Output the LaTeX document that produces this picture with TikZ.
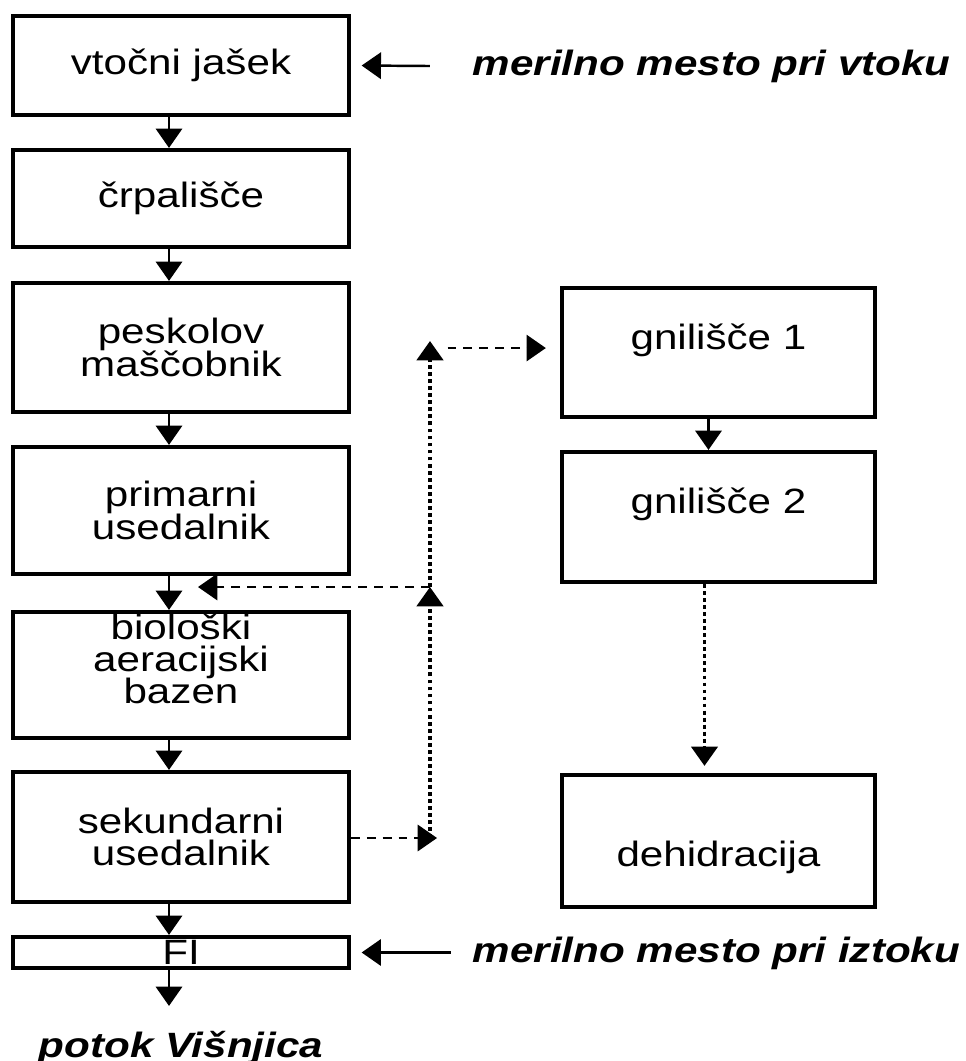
\documentclass[tikz,border=0pt]{standalone}
\usepackage{fontspec}
\setmainfont{Liberation Sans}[FakeStretch=1.2]
\usepackage{tikz}
\usetikzlibrary{arrows.meta,positioning}

\begin{document}
\begin{tikzpicture}[>={Triangle[width=7.5pt,length=5.5pt]},
    box/.style={rectangle, draw, line width=1.2pt, inner sep=0pt, align=center,
        font={\fontsize{10}{9.2}\selectfont\lineskiplimit=-6pt}},
    lbox/.style={box, minimum width=3.36cm},
    rbox/.style={box, minimum width=3.13cm},
    flow/.style={->, line width=0.7pt},
    ret/.style={->, line width=0.6pt, dash pattern=on 2.5pt off 2pt},
    sludge/.style={->, line width=1pt, dash pattern=on 1.1pt off 0.9pt},
    note/.style={inner sep=0pt, font=\fontsize{10}{12}\selectfont\bfseries\itshape}]
    \useasboundingbox (0,0) rectangle (9.66,-10.61);

    % Water line
    \node (vj) at (1.81,-0.655) [lbox, minimum height=0.99cm] {vtočni jašek};
    \node (crp) at (1.81,-1.985) [lbox, minimum height=0.97cm] {črpališče};
    \node (pesk) at (1.81,-3.475) [lbox, minimum height=1.29cm] {peskolov\\maščobnik};
    \node (prim) at (1.81,-5.105) [lbox, minimum height=1.27cm] {primarni\\usedalnik};
    \node (bio) at (1.81,-6.75) [lbox, minimum height=1.26cm] {biološki\\aeracijski\\bazen\\\mbox{}};
    \node (sek) at (1.81,-8.37) [lbox, minimum height=1.30cm] {sekundarni\\usedalnik};
    \node (fi) at (1.81,-9.525) [lbox, minimum height=0.31cm] {FI};
    \node (potok) at (1.81,-10.48) [note] {potok Višnjica};

    \foreach \a/\b in {vj/crp, crp/pesk, pesk/prim, prim/bio, bio/sek, sek/fi}
        \draw[flow] ([xshift=-0.12cm]\a.south) -- ([xshift=-0.12cm]\b.north);
    \draw[flow] ([xshift=-0.12cm]fi.south) -- ([xshift=-0.12cm,yshift=7pt]potok.north);

    % Sludge line
    \node (g1) at (7.185,-3.525) [rbox, minimum height=1.29cm] {gnilišče 1\\\mbox{}};
    \node (g2) at (7.185,-5.17) [rbox, minimum height=1.30cm] {gnilišče 2\\\mbox{}};
    \node (deh) at (7.185,-8.41) [rbox, minimum height=1.32cm] {\rule{0pt}{7.5pt}\\dehidracija};

    \draw[flow] ([xshift=-0.1cm]g1.south) -- ([xshift=-0.1cm]g2.north);
    \draw[sludge] ([xshift=-0.14cm]g2.south) -- ([xshift=-0.14cm,yshift=2pt]deh.north);

    % Return sludge
    \coordinate (sb) at (4.30,-8.38);
    \coordinate (rj) at (4.30,-5.87);
    \coordinate (tj) at (4.30,-3.41);
    \coordinate (rin) at (1.98,-5.87);
    \draw[ret] (sek.east |- sb) -- ([xshift=2pt]sb);
    \draw[sludge] (sb) -- (rj);
    \draw[sludge] (rj) -- (tj);
    \draw[ret] (rj) -- (rin);
    \draw[ret] ([xshift=5pt,yshift=-2pt]tj) -- ([xshift=-4pt,yshift=-2pt]tj -| g1.west);

    % Measuring points
    \node (lin) at (4.72,-0.66) [note, anchor=west] {merilno mesto pri vtoku};
    \node (lout) at (4.72,-9.53) [note, anchor=west] {merilno mesto pri iztoku};
    \draw[flow] ([xshift=-12pt]lin.west) -- ([xshift=3pt]vj.east);
    \draw[flow] ([xshift=-6pt]lout.west |- fi.east) -- ([xshift=3pt]fi.east);
\end{tikzpicture}
\end{document}
